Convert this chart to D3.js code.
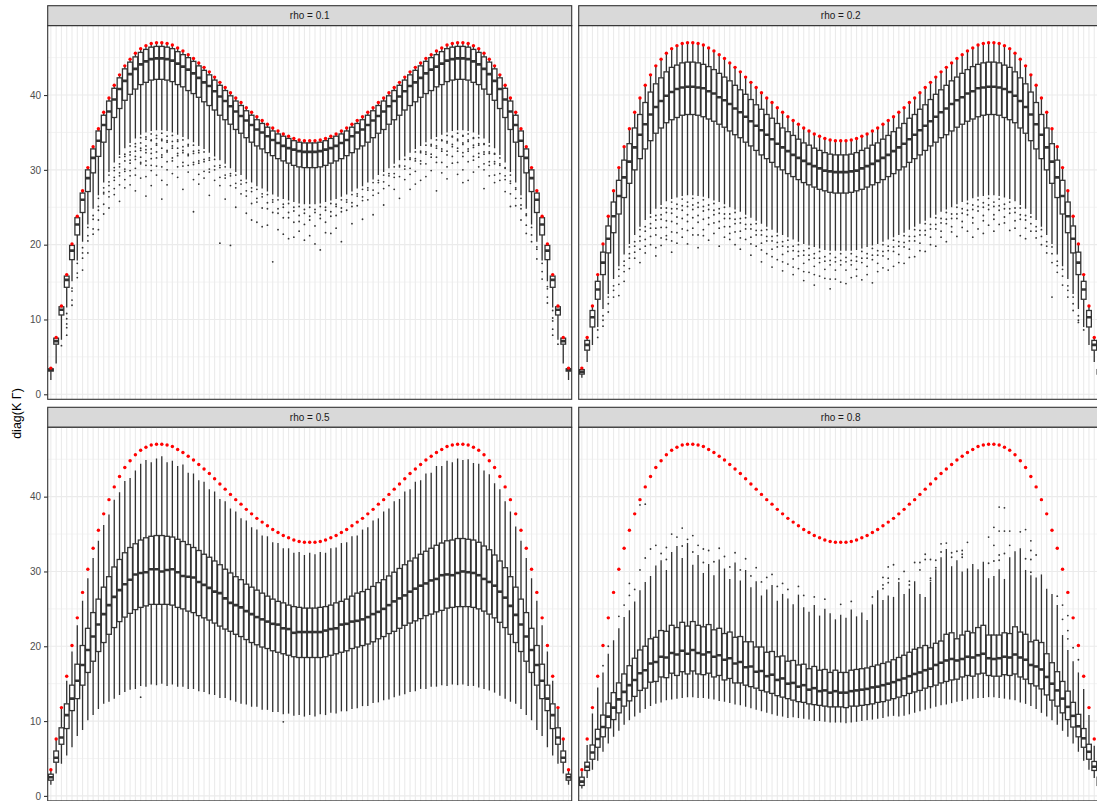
<!DOCTYPE html>
<html>
<head>
<meta charset="utf-8">
<script src="https://cdn.jsdelivr.net/npm/d3@7"></script>
<style>
  body { margin: 0; background: #fff; }
  text { font-family: "Liberation Sans", Arial, sans-serif; }
</style>
</head>
<body>
<div id="chart"></div>
<script>
// upper bound (red points), same in every panel
const redMax = [
  3.5, 7.6, 11.8, 16.0, 20.1, 23.8, 27.2, 30.3, 33.1, 35.5,
  37.7, 39.6, 41.3, 42.7, 43.9, 44.8, 45.6, 46.2, 46.6, 46.9,
  47.0, 47.0, 46.9, 46.7, 46.3, 45.9, 45.4, 44.9, 44.3, 43.7,
  43.1, 42.4, 41.7, 41.0, 40.3, 39.6, 39.0, 38.3, 37.7, 37.1,
  36.6, 36.1, 35.6, 35.2, 34.8, 34.5, 34.2, 34.0, 33.9, 33.9,
  33.9, 34.0, 34.2, 34.5, 34.8, 35.2, 35.6, 36.1, 36.6, 37.1,
  37.7, 38.3, 39.0, 39.6, 40.3, 41.0, 41.7, 42.4, 43.1, 43.7,
  44.3, 44.9, 45.4, 45.9, 46.3, 46.7, 46.9, 47.0, 47.0, 46.9,
  46.6, 46.2, 45.6, 44.8, 43.9, 42.7, 41.3, 39.6, 37.7, 35.5,
  33.1, 30.3, 27.2, 23.8, 20.1, 16.0, 11.8, 7.6, 3.5
];

// rho = 0.1
const med01 = [
  3.3, 7.1, 11.3, 15.3, 19.2, 22.7, 26.0, 28.9, 31.6, 33.9,
  36.0, 37.8, 39.4, 40.8, 41.9, 42.8, 43.5, 44.1, 44.5, 44.8,
  44.9, 44.9, 44.8, 44.6, 44.2, 43.8, 43.4, 42.9, 42.3, 41.7,
  41.2, 40.5, 39.8, 39.2, 38.5, 37.8, 37.2, 36.6, 36.0, 35.4,
  35.0, 34.5, 34.0, 33.6, 33.2, 32.9, 32.7, 32.5, 32.4, 32.4,
  32.4, 32.5, 32.7, 32.9, 33.2, 33.6, 34.0, 34.5, 35.0, 35.4,
  36.0, 36.6, 37.2, 37.8, 38.5, 39.2, 39.8, 40.5, 41.2, 41.7,
  42.3, 42.9, 43.4, 43.8, 44.2, 44.6, 44.8, 44.9, 44.9, 44.8,
  44.5, 44.1, 43.5, 42.8, 41.9, 40.8, 39.4, 37.8, 36.0, 33.9,
  31.6, 28.9, 26.0, 22.7, 19.2, 15.3, 11.3, 7.1, 3.3
];
const q301 = [
  3.4, 7.5, 11.7, 15.8, 19.9, 23.6, 26.9, 30.0, 32.8, 35.2,
  37.3, 39.2, 40.9, 42.3, 43.5, 44.4, 45.1, 45.7, 46.1, 46.4,
  46.5, 46.5, 46.4, 46.2, 45.8, 45.4, 45.0, 44.5, 43.9, 43.3,
  42.7, 42.0, 41.3, 40.6, 39.9, 39.2, 38.6, 37.9, 37.3, 36.7,
  36.2, 35.7, 35.2, 34.8, 34.5, 34.2, 33.9, 33.7, 33.6, 33.6,
  33.6, 33.7, 33.9, 34.2, 34.5, 34.8, 35.2, 35.7, 36.2, 36.7,
  37.3, 37.9, 38.6, 39.2, 39.9, 40.6, 41.3, 42.0, 42.7, 43.3,
  43.9, 44.5, 45.0, 45.4, 45.8, 46.2, 46.4, 46.5, 46.5, 46.4,
  46.1, 45.7, 45.1, 44.4, 43.5, 42.3, 40.9, 39.2, 37.3, 35.2,
  32.8, 30.0, 26.9, 23.6, 19.9, 15.8, 11.7, 7.5, 3.4
];
const q101 = [
  3.1, 6.7, 10.6, 14.3, 18.0, 21.3, 24.3, 27.1, 29.6, 31.8,
  33.7, 35.4, 37.0, 38.2, 39.3, 40.1, 40.8, 41.4, 41.7, 42.0,
  42.1, 42.1, 42.0, 41.8, 41.4, 41.1, 40.6, 40.2, 39.7, 39.1,
  38.6, 38.0, 37.3, 36.7, 36.1, 35.4, 34.9, 34.3, 33.7, 33.2,
  32.8, 32.3, 31.9, 31.5, 31.2, 30.9, 30.6, 30.4, 30.3, 30.3,
  30.3, 30.4, 30.6, 30.9, 31.2, 31.5, 31.9, 32.3, 32.8, 33.2,
  33.7, 34.3, 34.9, 35.4, 36.1, 36.7, 37.3, 38.0, 38.6, 39.1,
  39.7, 40.2, 40.6, 41.1, 41.4, 41.8, 42.0, 42.1, 42.1, 42.0,
  41.7, 41.4, 40.8, 40.1, 39.3, 38.2, 37.0, 35.4, 33.7, 31.8,
  29.6, 27.1, 24.3, 21.3, 18.0, 14.3, 10.6, 6.7, 3.1
];
const lo01 = [
  1.9, 4.1, 7.3, 11.6, 15.1, 17.9, 20.4, 22.7, 24.8, 26.6,
  28.3, 29.7, 31.0, 32.0, 32.9, 33.6, 34.2, 34.7, 35.0, 35.2,
  35.3, 35.3, 35.2, 35.0, 34.7, 34.4, 34.1, 33.7, 33.2, 32.8,
  32.3, 31.8, 31.3, 30.8, 30.2, 29.7, 29.3, 28.7, 28.3, 27.8,
  27.5, 27.1, 26.7, 26.4, 26.1, 25.9, 25.7, 25.5, 25.4, 25.4,
  25.4, 25.5, 25.7, 25.9, 26.1, 26.4, 26.7, 27.1, 27.5, 27.8,
  28.3, 28.7, 29.3, 29.7, 30.2, 30.8, 31.3, 31.8, 32.3, 32.8,
  33.2, 33.7, 34.1, 34.4, 34.7, 35.0, 35.2, 35.3, 35.3, 35.2,
  35.0, 34.7, 34.2, 33.6, 32.9, 32.0, 31.0, 29.7, 28.3, 26.6,
  24.8, 22.7, 20.4, 17.9, 15.1, 11.6, 7.3, 4.1, 1.9
];
const hi01 = [
  3.5, 7.6, 11.8, 15.9, 20.0, 23.7, 27.1, 30.2, 33.0, 35.4,
  37.6, 39.5, 41.2, 42.6, 43.8, 44.7, 45.5, 46.1, 46.5, 46.8,
  46.9, 46.9, 46.8, 46.6, 46.2, 45.8, 45.3, 44.8, 44.2, 43.6,
  43.0, 42.3, 41.6, 40.9, 40.2, 39.5, 38.9, 38.2, 37.6, 37.0,
  36.5, 36.0, 35.5, 35.1, 34.7, 34.4, 34.1, 33.9, 33.8, 33.8,
  33.8, 33.9, 34.1, 34.4, 34.7, 35.1, 35.5, 36.0, 36.5, 37.0,
  37.6, 38.2, 38.9, 39.5, 40.2, 40.9, 41.6, 42.3, 43.0, 43.6,
  44.2, 44.8, 45.3, 45.8, 46.2, 46.6, 46.8, 46.9, 46.9, 46.8,
  46.5, 46.1, 45.5, 44.7, 43.8, 42.6, 41.2, 39.5, 37.6, 35.4,
  33.0, 30.2, 27.1, 23.7, 20.0, 15.9, 11.8, 7.6, 3.5
];
// outliers: [category, values...]
const out01 = [
  [3, 6.5], [4, 10.8, 10.1, 9.4, 8.9, 7.9], [5, 14.2, 13.8, 12.6, 11.9], [6, 17.5, 16.2, 15.6],
  [7, 19.6, 18.9, 18.2, 16.6], [8, 22.3, 21.2, 20.5, 18.9], [9, 23.9, 23.4, 22.1, 21.4],
  [10, 26.2, 25.1, 24.6, 23.3, 22.0], [11, 27.6, 27.0, 26.8, 25.4, 24.1],
  [12, 29.3, 28.4, 27.9, 27.1, 26.4, 24.9], [13, 30.3, 29.9, 29.0, 28.6, 27.5, 26.7],
  [14, 31.7, 30.8, 30.4, 29.6, 29.2, 28.0, 25.8], [15, 32.1, 31.8, 31.2, 30.1, 29.8, 28.7, 27.6],
  [16, 33.2, 32.4, 32.0, 31.3, 30.9, 29.9, 29.2, 28.0], [17, 33.5, 33.1, 32.5, 31.8, 31.4, 30.2, 29.3, 27.2],
  [18, 34.3, 33.6, 32.9, 32.6, 31.7, 31.0, 30.8, 28.9], [19, 34.4, 34.1, 33.2, 32.7, 32.3, 31.2, 30.6, 29.1, 26.5],
  [20, 34.8, 34.0, 33.9, 32.8, 32.2, 31.5, 30.6, 29.9, 27.9], [21, 34.6, 34.2, 33.5, 33.3, 32.4, 31.6, 30.5, 29.3],
  [22, 34.9, 34.1, 33.9, 32.9, 32.0, 31.7, 30.4, 28.6, 26.1], [23, 34.5, 33.9, 33.7, 32.6, 32.4, 31.1, 30.0, 28.0],
  [24, 34.6, 33.8, 33.2, 32.9, 31.6, 31.2, 29.5], [25, 34.0, 33.8, 32.9, 32.2, 31.9, 30.4, 29.0],
  [26, 34.0, 33.1, 32.6, 32.3, 31.0, 30.5, 27.4], [27, 33.4, 33.2, 32.1, 31.9, 30.6, 29.7],
  [28, 33.3, 32.5, 32.2, 31.0, 30.7, 28.7, 24.4], [29, 32.6, 32.3, 31.2, 30.9, 29.4, 28.1],
  [30, 32.4, 31.4, 31.1, 29.8, 28.9], [31, 31.6, 31.3, 30.1, 29.7, 26.6], [32, 31.4, 30.5, 30.0, 28.6],
  [33, 30.6, 30.3, 29.0, 27.9, 20.2], [34, 30.4, 29.3, 28.9, 26.1], [35, 29.5, 29.2, 27.9, 19.9],
  [36, 29.3, 28.2, 27.6, 25.0], [37, 28.6, 28.1, 26.8], [38, 28.3, 27.2, 26.5, 24.2],
  [39, 27.6, 27.1, 25.5, 23.3], [40, 27.4, 26.2, 25.7, 23.0], [41, 26.8, 26.4, 24.9, 22.4],
  [42, 26.7, 25.6, 24.8, 22.6], [43, 26.0, 25.7, 24.3, 17.7], [44, 26.0, 24.8, 24.2, 22.0],
  [45, 25.4, 25.0, 23.6, 21.4], [46, 25.5, 24.3, 23.6, 20.8], [47, 25.0, 24.5, 23.0, 21.0],
  [48, 25.1, 23.9, 23.1, 21.8], [49, 24.7, 24.2, 22.7, 20.6], [50, 25.0, 23.8, 23.3, 21.2],
  [51, 24.7, 24.3, 22.5, 20.1], [52, 25.1, 24.0, 23.5, 19.3], [53, 25.0, 24.6, 23.0, 21.6],
  [54, 25.5, 24.4, 23.8, 21.5], [55, 25.4, 25.1, 23.9, 22.2], [56, 26.0, 24.9, 24.4, 20.4],
  [57, 26.0, 25.7, 24.6], [58, 26.7, 25.6, 25.1, 22.8], [59, 26.8, 26.5, 25.2],
  [60, 27.4, 26.4, 25.9, 23.4], [61, 27.6, 27.3, 26.0], [62, 28.3, 27.3, 26.6, 24.0],
  [63, 28.6, 28.3, 26.9], [64, 29.3, 28.4, 27.5, 25.3], [65, 29.5, 29.2, 27.9],
  [66, 30.4, 29.5, 29.0, 27.4], [67, 30.6, 30.4, 29.1, 26.2], [68, 31.4, 30.5, 30.1, 28.7],
  [69, 31.6, 31.4, 30.2, 29.4, 27.4], [70, 32.4, 31.5, 31.2, 29.8, 28.1], [71, 32.5, 32.3, 31.2, 30.8, 28.6],
  [72, 33.3, 32.4, 32.1, 30.8, 29.1], [73, 33.4, 33.2, 32.1, 31.7, 29.9], [74, 34.0, 33.2, 32.9, 31.7, 31.0, 27.2],
  [75, 34.0, 33.9, 32.8, 32.5, 31.0, 29.6], [76, 34.6, 33.8, 33.6, 32.5, 32.0, 30.4, 28.8],
  [77, 34.5, 34.4, 33.4, 33.1, 31.8, 30.9], [78, 34.9, 34.1, 33.9, 32.9, 32.5, 31.0, 29.4],
  [79, 34.6, 34.5, 33.6, 33.4, 32.3, 31.8, 30.0, 28.3], [80, 34.8, 34.0, 33.8, 32.8, 32.5, 31.1, 28.6],
  [81, 34.3, 34.2, 33.3, 33.0, 31.8, 31.3, 29.7], [82, 34.3, 33.5, 33.3, 32.2, 31.7, 30.4],
  [83, 33.5, 33.4, 32.4, 32.1, 30.8, 30.0, 27.5], [84, 33.2, 32.4, 32.2, 31.1, 30.6, 29.2],
  [85, 32.2, 32.1, 31.1, 30.8, 29.3, 28.3], [86, 31.6, 30.8, 30.6, 29.5, 28.6],
  [87, 30.3, 30.2, 29.2, 28.7, 27.1], [88, 29.3, 28.5, 28.2, 26.8, 25.1], [89, 27.6, 27.4, 26.2, 25.2],
  [90, 26.2, 25.3, 24.8, 23.3], [91, 24.1, 23.9, 22.6, 21.5], [92, 22.3, 21.3, 20.4],
  [93, 19.7, 19.4, 18.1], [94, 17.5, 16.4, 15.4], [95, 14.4, 14.1, 13.0, 12.2],
  [96, 11.2, 10.2, 9.8, 8.7, 7.9], [97, 6.7]
];

// rho = 0.2
const med02 = [
  3.0, 6.6, 10.3, 14.0, 17.6, 20.8, 23.8, 26.5, 29.0, 31.1,
  33.0, 34.7, 36.1, 37.4, 38.4, 39.2, 39.9, 40.4, 40.8, 41.0,
  41.1, 41.1, 41.0, 40.9, 40.5, 40.2, 39.7, 39.3, 38.8, 38.2,
  37.7, 37.1, 36.5, 35.9, 35.3, 34.7, 34.1, 33.5, 33.0, 32.5,
  32.0, 31.6, 31.2, 30.8, 30.5, 30.2, 29.9, 29.8, 29.7, 29.7,
  29.7, 29.8, 29.9, 30.2, 30.5, 30.8, 31.2, 31.6, 32.0, 32.5,
  33.0, 33.5, 34.1, 34.7, 35.3, 35.9, 36.5, 37.1, 37.7, 38.2,
  38.8, 39.3, 39.7, 40.2, 40.5, 40.9, 41.0, 41.1, 41.1, 41.0,
  40.8, 40.4, 39.9, 39.2, 38.4, 37.4, 36.1, 34.7, 33.0, 31.1,
  29.0, 26.5, 23.8, 20.8, 17.6, 14.0, 10.3, 6.6, 3.0
];
const q302 = [
  3.3, 7.2, 11.2, 15.1, 19.0, 22.5, 25.7, 28.6, 31.3, 33.5,
  35.6, 37.4, 39.0, 40.4, 41.5, 42.3, 43.1, 43.7, 44.0, 44.3,
  44.4, 44.4, 44.3, 44.1, 43.8, 43.4, 42.9, 42.4, 41.9, 41.3,
  40.7, 40.1, 39.4, 38.7, 38.1, 37.4, 36.9, 36.2, 35.6, 35.1,
  34.6, 34.1, 33.6, 33.3, 32.9, 32.6, 32.3, 32.1, 32.0, 32.0,
  32.0, 32.1, 32.3, 32.6, 32.9, 33.3, 33.6, 34.1, 34.6, 35.1,
  35.6, 36.2, 36.9, 37.4, 38.1, 38.7, 39.4, 40.1, 40.7, 41.3,
  41.9, 42.4, 42.9, 43.4, 43.8, 44.1, 44.3, 44.4, 44.4, 44.3,
  44.0, 43.7, 43.1, 42.3, 41.5, 40.4, 39.0, 37.4, 35.6, 33.5,
  31.3, 28.6, 25.7, 22.5, 19.0, 15.1, 11.2, 7.2, 3.3
];
const q102 = [
  2.7, 5.9, 9.0, 12.7, 16.0, 18.9, 21.6, 24.1, 26.3, 28.2,
  30.0, 31.5, 32.8, 33.9, 34.9, 35.6, 36.3, 36.7, 37.0, 37.3,
  37.4, 37.4, 37.3, 37.1, 36.8, 36.5, 36.1, 35.7, 35.2, 34.7,
  34.3, 33.7, 33.2, 32.6, 32.0, 31.5, 31.0, 30.4, 30.0, 29.5,
  29.1, 28.7, 28.3, 28.0, 27.7, 27.4, 27.2, 27.0, 26.9, 26.9,
  26.9, 27.0, 27.2, 27.4, 27.7, 28.0, 28.3, 28.7, 29.1, 29.5,
  30.0, 30.4, 31.0, 31.5, 32.0, 32.6, 33.2, 33.7, 34.3, 34.7,
  35.2, 35.7, 36.1, 36.5, 36.8, 37.1, 37.3, 37.4, 37.4, 37.3,
  37.0, 36.7, 36.3, 35.6, 34.9, 33.9, 32.8, 31.5, 30.0, 28.2,
  26.3, 24.1, 21.6, 18.9, 16.0, 12.7, 9.0, 5.9, 2.7
];
const lo02 = [
  2.2, 4.3, 6.6, 9.0, 11.4, 13.4, 15.4, 17.1, 18.7, 20.1,
  21.3, 22.4, 23.3, 24.1, 24.8, 25.3, 25.8, 26.1, 26.3, 26.5,
  26.6, 26.6, 26.5, 26.4, 26.2, 25.9, 25.7, 25.4, 25.0, 24.7,
  24.4, 24.0, 23.6, 23.2, 22.8, 22.4, 22.0, 21.6, 21.3, 21.0,
  20.7, 20.4, 20.1, 19.9, 19.7, 19.5, 19.3, 19.2, 19.2, 19.2,
  19.2, 19.2, 19.3, 19.5, 19.7, 19.9, 20.1, 20.4, 20.7, 21.0,
  21.3, 21.6, 22.0, 22.4, 22.8, 23.2, 23.6, 24.0, 24.4, 24.7,
  25.0, 25.4, 25.7, 25.9, 26.2, 26.4, 26.5, 26.6, 26.6, 26.5,
  26.3, 26.1, 25.8, 25.3, 24.8, 24.1, 23.3, 22.4, 21.3, 20.1,
  18.7, 17.1, 15.4, 13.4, 11.4, 9.0, 6.6, 4.3, 2.2
];
const out02 = [
  [4, 8.6, 7.6], [5, 10.5, 9.9, 9.1], [6, 13.0, 12.1, 11.0], [7, 14.5, 13.9, 13.0],
  [8, 16.7, 15.8, 14.7, 13.2], [9, 17.8, 17.2, 16.4, 15.1], [10, 19.7, 18.8, 18.2, 16.8],
  [11, 20.4, 19.8, 19.0, 18.2], [12, 22.0, 21.1, 20.5, 19.4, 17.6], [13, 22.4, 21.8, 20.7, 19.8, 18.9],
  [14, 23.7, 22.8, 22.2, 21.1, 20.0], [15, 23.9, 23.3, 22.2, 21.3, 19.6, 18.5],
  [16, 24.9, 24.0, 23.4, 22.3, 20.9, 19.9], [17, 24.9, 24.3, 23.2, 22.3, 21.2, 20.7],
  [18, 25.7, 24.8, 24.2, 23.1, 21.7, 20.5, 19.0], [19, 25.4, 24.8, 23.7, 22.8, 21.6, 20.2],
  [20, 26.1, 25.2, 24.6, 23.5, 22.1, 21.0], [21, 25.7, 25.1, 24.0, 23.1, 21.9, 20.1],
  [22, 26.2, 25.3, 24.7, 23.6, 22.2, 21.3], [23, 25.6, 25.0, 23.9, 23.0, 21.3, 19.6],
  [24, 26.0, 25.1, 24.5, 23.4, 22.0, 21.2], [25, 25.3, 24.7, 23.6, 22.7, 20.6],
  [26, 25.5, 24.6, 24.0, 22.9, 21.5], [27, 24.8, 24.2, 23.1, 22.2, 19.8],
  [28, 25.0, 24.1, 23.5, 22.4, 21.0], [29, 24.1, 23.5, 22.4, 21.5, 20.7],
  [30, 24.3, 23.4, 22.8, 21.7, 20.0], [31, 23.5, 22.9, 21.8, 20.9, 19.4],
  [32, 23.6, 22.7, 22.1, 20.7], [33, 22.7, 22.1, 21.0, 20.1, 18.6], [34, 22.8, 21.9, 21.3, 19.8],
  [35, 21.9, 21.3, 20.2, 19.3, 17.7], [36, 22.0, 21.1, 20.5, 18.8], [37, 21.1, 20.5, 19.4, 18.4, 17.0],
  [38, 21.2, 20.3, 19.7, 18.0], [39, 20.4, 19.8, 18.7, 17.7, 16.5], [40, 20.6, 19.7, 19.1, 17.4],
  [41, 19.8, 19.2, 18.1, 17.0, 16.0], [42, 20.0, 19.1, 18.5, 16.8], [43, 19.2, 18.6, 17.5, 16.4, 15.2],
  [44, 19.5, 18.6, 18.0, 16.3], [45, 18.8, 18.2, 17.1, 16.0, 14.6], [46, 19.1, 18.2, 17.6, 15.8],
  [47, 18.4, 17.8, 16.7, 15.5], [48, 18.8, 17.9, 17.3, 15.4, 14.1], [49, 18.3, 17.7, 16.6, 15.4],
  [50, 18.8, 17.9, 17.3, 15.0], [51, 18.3, 17.7, 16.6, 14.8], [52, 18.8, 17.9, 17.3, 15.6],
  [53, 18.4, 17.8, 16.7, 15.8], [54, 19.1, 18.2, 17.6, 15.3], [55, 18.8, 18.2, 17.1, 16.0],
  [56, 19.5, 18.6, 18.0, 14.9], [57, 19.2, 18.6, 17.5, 16.4], [58, 20.0, 19.1, 18.5, 16.9],
  [59, 19.8, 19.2, 18.1, 16.6], [60, 20.6, 19.7, 19.1, 17.1], [61, 20.4, 19.8, 18.7, 17.6],
  [62, 21.2, 20.3, 19.7, 17.5], [63, 21.1, 20.5, 19.4, 18.3], [64, 22.0, 21.1, 20.5, 18.4],
  [65, 21.9, 21.3, 20.2, 19.2], [66, 22.8, 21.9, 21.3, 19.1], [67, 22.7, 22.1, 21.0, 20.0],
  [68, 23.6, 22.7, 22.1, 19.8], [69, 23.5, 22.9, 21.8, 21.0], [70, 24.3, 23.4, 22.8, 20.4],
  [71, 24.1, 23.5, 22.4, 21.7], [72, 25.0, 24.1, 23.5, 21.1], [73, 24.8, 24.2, 23.1, 22.3],
  [74, 25.5, 24.6, 24.0, 21.8], [75, 25.3, 24.7, 23.6, 22.9, 21.0], [76, 26.0, 25.1, 24.5, 22.1],
  [77, 25.6, 25.0, 23.9, 23.2, 21.5], [78, 26.2, 25.3, 24.7, 22.6], [79, 25.7, 25.1, 24.0, 23.4, 21.8],
  [80, 26.1, 25.2, 24.6, 22.7], [81, 25.4, 24.8, 23.7, 22.9], [82, 25.7, 24.8, 24.2, 21.9],
  [83, 24.9, 24.3, 23.2, 22.2], [84, 24.9, 24.0, 23.4, 21.2], [85, 23.9, 23.3, 22.2, 20.8],
  [86, 23.7, 22.8, 21.8], [87, 22.4, 21.8, 20.9], [88, 22.0, 21.1, 20.0], [89, 20.4, 19.8, 18.9],
  [90, 19.7, 18.8, 17.6, 13.0], [91, 17.8, 17.2, 16.3], [92, 16.7, 15.8, 14.6], [93, 14.5, 13.9, 13.0],
  [94, 13.0, 12.1, 11.2], [95, 10.5, 9.9, 9.6], [96, 8.6]
];

// rho = 0.5
const med05 = [
  2.5, 5.1, 7.8, 10.8, 13.0, 15.4, 17.5, 19.5, 21.3, 22.9,
  24.3, 25.5, 26.6, 27.5, 28.3, 28.9, 29.6, 29.8, 29.9, 30.3,
  30.3, 30.0, 30.2, 30.3, 29.9, 29.4, 29.3, 29.2, 28.6, 28.2,
  27.8, 27.3, 27.1, 26.4, 25.8, 25.5, 25.2, 24.7, 24.3, 23.9,
  23.6, 23.3, 23.0, 22.9, 22.4, 22.3, 21.8, 21.9, 21.9, 21.9,
  21.9, 21.9, 22.1, 22.3, 22.4, 22.9, 23.0, 23.3, 23.4, 23.6,
  23.9, 24.3, 24.6, 25.0, 25.5, 26.0, 26.4, 26.8, 27.3, 27.7,
  28.1, 28.4, 28.8, 29.0, 29.5, 29.6, 29.5, 29.8, 30.0, 29.9,
  29.8, 29.5, 29.0, 28.6, 28.1, 27.3, 26.5, 25.4, 24.2, 22.9,
  21.3, 19.5, 17.5, 15.4, 13.0, 10.8, 7.8, 5.1, 2.5
];
const q305 = [
  2.9, 6.0, 9.1, 12.3, 14.8, 17.6, 20.1, 22.4, 24.5, 26.3,
  27.9, 29.3, 30.6, 31.6, 32.5, 33.2, 33.7, 34.2, 34.5, 34.7,
  34.8, 34.8, 34.7, 34.6, 34.3, 34.0, 33.6, 33.2, 32.8, 32.3,
  31.9, 31.4, 30.9, 30.3, 29.8, 29.3, 28.9, 28.3, 27.9, 27.5,
  27.1, 26.7, 26.3, 26.0, 25.8, 25.5, 25.3, 25.2, 25.1, 25.1,
  25.1, 25.2, 25.3, 25.5, 25.8, 26.0, 26.3, 26.7, 27.1, 27.3,
  27.6, 28.0, 28.5, 28.9, 29.4, 29.9, 30.4, 30.9, 31.4, 31.8,
  32.3, 32.7, 33.1, 33.5, 33.8, 34.1, 34.2, 34.4, 34.4, 34.3,
  34.2, 33.9, 33.4, 32.9, 32.2, 31.4, 30.5, 29.3, 27.9, 26.3,
  24.5, 22.4, 20.1, 17.6, 14.8, 12.3, 9.1, 6.0, 2.9
];
const q105 = [
  2.1, 4.5, 6.9, 9.0, 11.4, 13.0, 14.8, 16.5, 18.0, 19.3,
  20.5, 21.6, 22.5, 23.3, 23.9, 24.4, 24.9, 25.2, 25.4, 25.6,
  25.6, 25.6, 25.6, 25.5, 25.2, 25.0, 24.7, 24.5, 24.1, 23.8,
  23.5, 23.1, 22.7, 22.3, 22.0, 21.6, 21.3, 20.9, 20.5, 20.2,
  19.9, 19.7, 19.4, 19.2, 19.0, 18.8, 18.6, 18.5, 18.5, 18.5,
  18.5, 18.5, 18.6, 18.8, 19.0, 19.2, 19.4, 19.7, 19.9, 20.1,
  20.3, 20.6, 21.0, 21.3, 21.7, 22.0, 22.4, 22.8, 23.1, 23.4,
  23.7, 24.1, 24.3, 24.6, 24.8, 25.1, 25.2, 25.3, 25.3, 25.3,
  25.2, 25.0, 24.7, 24.3, 23.8, 23.2, 22.5, 21.6, 20.5, 19.3,
  18.0, 16.5, 14.8, 13.0, 11.4, 9.0, 6.9, 4.5, 2.1
];
const lo05 = [
  1.5, 3.0, 4.3, 5.4, 6.5, 8.0, 8.8, 10.1, 10.8, 11.6,
  12.3, 12.6, 13.0, 13.5, 13.9, 14.2, 14.3, 14.7, 14.6, 14.9,
  14.8, 15.0, 14.7, 14.9, 14.6, 14.6, 14.3, 14.3, 14.0, 13.9,
  13.6, 13.5, 13.1, 13.1, 12.8, 12.6, 12.3, 12.2, 11.9, 11.9,
  11.5, 11.5, 11.2, 11.2, 10.9, 11.0, 10.7, 10.8, 10.6, 10.8,
  10.6, 10.9, 10.8, 11.1, 11.0, 11.3, 11.3, 11.6, 11.7, 12.0,
  12.0, 12.4, 12.5, 12.8, 12.9, 13.2, 13.4, 13.6, 13.9, 14.0,
  14.3, 14.3, 14.6, 14.6, 14.8, 14.7, 14.9, 14.8, 14.9, 14.7,
  14.7, 14.5, 14.3, 14.1, 13.8, 13.4, 13.0, 12.6, 12.3, 11.6,
  10.8, 10.1, 8.8, 8.0, 6.5, 5.4, 4.3, 3.0, 1.5
];
const hi05 = [
  3.5, 7.6, 11.8, 15.4, 19.3, 22.8, 26.1, 29.1, 31.8, 34.1,
  36.2, 37.6, 39.6, 40.6, 42.1, 42.5, 43.5, 44.4, 44.9, 44.6,
  45.1, 45.4, 44.6, 44.8, 44.1, 44.3, 43.2, 43.1, 42.2, 42.0,
  41.0, 40.7, 39.7, 39.4, 38.4, 38.0, 37.1, 36.8, 35.9, 35.6,
  34.8, 34.7, 33.9, 33.8, 33.1, 33.1, 32.5, 32.6, 32.2, 32.5,
  32.3, 32.6, 32.5, 33.1, 33.2, 33.8, 33.9, 34.7, 34.8, 35.6,
  35.9, 36.8, 37.1, 38.0, 38.4, 39.4, 39.7, 40.7, 41.0, 42.0,
  42.2, 43.1, 43.2, 44.1, 44.1, 44.8, 44.6, 45.1, 44.9, 45.0,
  44.5, 44.4, 43.5, 43.0, 41.8, 41.0, 39.4, 38.0, 36.0, 34.1,
  31.8, 29.1, 26.1, 22.8, 19.3, 15.4, 11.8, 7.6, 3.5
];
const out05 = [[18, 13.2], [45, 9.9]];

// rho = 0.8
const med08 = [
  1.9, 3.9, 5.8, 7.6, 9.2, 10.6, 11.8, 12.9, 13.9, 14.8,
  15.5, 16.4, 16.8, 17.7, 17.9, 18.6, 18.5, 19.1, 18.9, 19.4,
  19.0, 19.5, 19.1, 18.9, 19.2, 18.6, 18.8, 18.2, 18.4, 17.7,
  17.9, 17.2, 17.3, 16.6, 16.7, 16.0, 16.2, 15.5, 15.7, 15.0,
  15.1, 14.6, 14.8, 14.2, 14.4, 14.0, 14.1, 13.8, 14.0, 13.8,
  13.8, 14.0, 14.1, 14.2, 14.3, 14.5, 14.6, 14.8, 15.0, 15.2,
  15.5, 15.7, 16.0, 16.3, 16.5, 16.8, 17.0, 17.5, 17.8, 18.1,
  18.3, 18.1, 18.3, 18.6, 18.5, 18.8, 19.0, 18.4, 18.3, 18.4,
  18.6, 18.5, 18.9, 18.5, 18.2, 17.5, 17.3, 16.9, 15.9, 15.0,
  14.1, 13.0, 11.9, 10.7, 9.3, 7.7, 5.9, 3.9, 1.9
];
const q308 = [
  2.5, 4.5, 6.8, 8.9, 10.8, 12.4, 13.8, 15.1, 16.3, 17.4,
  18.4, 19.5, 20.0, 21.0, 21.2, 22.1, 22.0, 22.8, 22.5, 23.2,
  22.7, 23.3, 22.8, 22.6, 22.9, 22.2, 22.4, 21.7, 21.9, 21.2,
  21.3, 20.6, 20.6, 19.9, 19.9, 19.2, 19.3, 18.6, 18.7, 18.0,
  18.1, 17.5, 17.6, 17.0, 17.3, 16.8, 16.9, 16.5, 16.8, 16.5,
  16.5, 16.8, 16.9, 17.0, 17.1, 17.3, 17.5, 17.7, 17.9, 18.2,
  18.5, 18.8, 19.2, 19.6, 19.8, 20.1, 19.8, 20.4, 20.7, 21.6,
  21.8, 21.0, 21.5, 22.0, 21.8, 22.5, 22.8, 21.5, 21.5, 21.5,
  21.8, 21.7, 22.6, 21.9, 21.6, 20.6, 20.8, 20.5, 19.0, 17.8,
  16.6, 15.3, 14.0, 12.5, 10.9, 9.0, 6.9, 4.6, 2.5
];
const q108 = [
  1.4, 3.4, 4.9, 6.5, 7.9, 9.1, 10.2, 11.1, 12.0, 12.7,
  13.3, 14.1, 14.4, 15.2, 15.3, 15.9, 15.8, 16.4, 16.1, 16.6,
  16.3, 16.7, 16.3, 16.2, 16.4, 15.9, 16.1, 15.5, 15.7, 15.1,
  15.1, 14.8, 14.6, 14.4, 14.1, 13.9, 13.7, 13.4, 13.2, 13.0,
  12.8, 12.6, 12.5, 12.3, 12.2, 12.1, 12.0, 11.9, 11.9, 11.9,
  11.8, 12.0, 12.0, 12.1, 12.2, 12.3, 12.5, 12.6, 12.8, 13.0,
  13.2, 13.4, 13.7, 13.9, 14.1, 14.4, 14.6, 14.8, 15.1, 15.3,
  15.5, 15.6, 15.9, 16.1, 16.0, 16.3, 16.4, 16.1, 16.0, 16.0,
  16.2, 16.1, 16.3, 15.9, 15.6, 15.0, 14.7, 14.3, 13.5, 12.8,
  12.0, 11.1, 10.2, 9.2, 7.9, 6.5, 4.9, 3.4, 1.4
];
const lo08 = [
  1.0, 2.4, 3.5, 4.7, 5.9, 7.0, 7.9, 8.7, 9.5, 10.1,
  10.6, 11.1, 11.6, 12.0, 12.3, 12.5, 12.8, 12.9, 13.0, 13.1,
  13.2, 13.2, 13.1, 13.1, 13.0, 12.9, 12.7, 12.6, 12.4, 12.2,
  12.1, 11.9, 11.7, 11.5, 11.3, 11.1, 10.9, 10.7, 10.6, 10.4,
  10.5, 10.4, 10.3, 10.2, 10.0, 10.0, 9.9, 9.8, 9.8, 9.8,
  9.7, 9.8, 9.9, 10.0, 10.1, 10.2, 10.3, 10.4, 10.6, 10.7,
  10.6, 10.7, 10.9, 11.1, 11.3, 11.5, 11.7, 11.9, 12.1, 12.2,
  12.4, 12.6, 12.7, 12.9, 13.0, 13.1, 13.1, 13.2, 13.2, 13.1,
  13.0, 12.9, 12.8, 12.5, 12.3, 12.0, 11.6, 11.1, 10.6, 10.1,
  9.5, 8.7, 7.9, 7.0, 5.9, 4.7, 3.5, 2.4, 1.0
];
const hi08 = [
  3.3, 6.8, 11.0, 14.5, 16.5, 19.0, 20.8, 22.4, 23.9, 24.8,
  26.0, 27.5, 28.6, 29.4, 30.8, 31.5, 30.2, 32.6, 33.4, 31.8,
  33.8, 30.9, 32.2, 29.8, 31.0, 29.5, 31.6, 30.4, 29.0, 31.2,
  28.8, 30.2, 27.9, 28.7, 26.8, 27.6, 28.2, 26.1, 27.0, 26.4,
  25.6, 26.9, 25.2, 24.6, 25.5, 24.1, 25.0, 24.4, 23.6, 24.2,
  23.8, 24.9, 24.0, 24.5, 23.5, 25.6, 27.5, 26.2, 26.8, 26.6,
  28.6, 27.0, 27.7, 28.7, 27.0, 26.6, 28.6, 30.3, 31.9, 33.0,
  30.7, 31.5, 30.0, 30.4, 31.0, 30.3, 31.3, 29.1, 29.4, 30.3,
  29.0, 31.9, 32.7, 33.1, 30.2, 29.5, 29.2, 29.6, 27.7, 27.0,
  25.5, 21.5, 19.5, 18.0, 16.5, 14.3, 10.8, 6.7, 3.3
];
const out08 = [
  [5, 17.4], [6, 20.0], [8, 24.0], [9, 25.5], [10, 26.8, 28.4], [11, 27.6], [12, 38.9, 30.2],
  [13, 39.0, 31.8], [14, 33.0], [15, 33.5], [16, 32.4], [17, 33.2, 31.6], [18, 35.0], [19, 34.6],
  [20, 33.4, 35.8], [21, 34.3], [22, 32.6, 34.8], [23, 33.5], [24, 31.2, 33.0], [25, 32.8], [26, 31.3],
  [27, 33.1], [28, 32.0], [29, 30.6], [30, 32.5], [31, 30.2], [32, 31.7], [33, 29.4], [34, 30.5],
  [35, 28.6], [36, 29.2], [37, 29.6], [38, 28.0], [39, 28.4], [40, 27.6], [42, 28.0], [43, 26.8],
  [45, 26.6], [47, 26.3], [50, 25.6], [52, 26.0], [56, 26.6], [58, 28.2, 27.7, 29.2],
  [59, 30.6, 29.1, 28.5], [60, 30.9], [61, 29.0], [62, 30.0], [63, 28.2, 28.7], [64, 31.2],
  [65, 31.2, 30.2], [66, 32.3, 31.6], [67, 31.6, 29.1, 28.8], [68, 31.5, 30.5], [69, 33.7, 32.6],
  [70, 33.8], [71, 32.5, 31.9], [72, 32.7], [73, 32.8, 32.3, 31.9], [74, 33.9], [78, 34.6, 31.1],
  [79, 35.9, 33.5, 31.4], [80, 38.6, 35.4, 32.2, 31.5], [81, 38.5, 35.4, 32.4], [82, 35.4, 33.5],
  [84, 35.3], [85, 35.6, 31.7], [86, 34.1, 32.8, 31.6, 29.9], [87, 32.2], [91, 26.7],
  [92, 25.5, 23.6], [93, 24.1, 22.1, 21.0], [94, 19.8], [95, 18.2]
];

const yTicks = [0, 10, 20, 30, 40];
const yMinor = [5, 15, 25, 35, 45];
const yDataRange = [1.6, 47.0];

const panels = [
  {label: "rho = 0.1", med: med01, q1: q101, q3: q301, lo: lo01, hi: hi01, out: out01},
  {label: "rho = 0.2", med: med02, q1: q102, q3: q302, lo: lo02, hi: hi01, out: out02},
  {label: "rho = 0.5", med: med05, q1: q105, q3: q305, lo: lo05, hi: hi05, out: out05},
  {label: "rho = 0.8", med: med08, q1: q108, q3: q308, lo: lo08, hi: hi08, out: out08}
];

// layout
const width = 1097, height = 801;
const panelW = 524, panelH = 373.6, stripH = 20;
const marginLeft = 47.7, marginTop = 5.7, gapX = 7, gapY = 8;
const dark = "#333333";

const svg = d3.select("#chart").append("svg")
  .attr("width", width)
  .attr("height", height)
  .style("display", "block");

const n = redMax.length;
const cats = d3.range(1, n + 1);

const x = d3.scaleLinear().domain([0.4, n + 0.6]).range([0, panelW]);
const pad = (yDataRange[1] - yDataRange[0]) * 0.05;
const y = d3.scaleLinear().domain([yDataRange[0] - pad, yDataRange[1] + pad]).range([panelH, 0]);
const boxW = (x(2) - x(1)) * 0.9;

panels.forEach((p, i) => {
  const col = i % 2, row = Math.floor(i / 2);
  const px = marginLeft + col * (panelW + gapX);
  const sy = marginTop + row * (stripH + panelH + gapY);
  const py = sy + stripH;

  // strip
  svg.append("rect")
    .attr("x", px).attr("y", sy)
    .attr("width", panelW).attr("height", stripH)
    .attr("fill", "#d9d9d9")
    .attr("stroke", dark).attr("stroke-width", 1.1);
  svg.append("text")
    .attr("x", px + panelW / 2).attr("y", sy + stripH / 2)
    .attr("dy", "0.35em")
    .attr("text-anchor", "middle")
    .attr("font-size", 10)
    .attr("fill", "#1a1a1a")
    .text(p.label);

  svg.append("clipPath").attr("id", "clip" + i)
    .append("rect").attr("width", panelW).attr("height", panelH);

  const g = svg.append("g").attr("transform", `translate(${px},${py})`);
  const inner = g.append("g").attr("clip-path", `url(#clip${i})`);

  inner.append("rect").attr("width", panelW).attr("height", panelH).attr("fill", "#fff");

  // grid
  inner.selectAll(".minor").data(yMinor).enter().append("line")
    .attr("x1", 0).attr("x2", panelW)
    .attr("y1", d => y(d)).attr("y2", d => y(d))
    .attr("stroke", "#ebebeb").attr("stroke-width", 0.6);
  inner.selectAll(".major").data(yTicks).enter().append("line")
    .attr("x1", 0).attr("x2", panelW)
    .attr("y1", d => y(d)).attr("y2", d => y(d))
    .attr("stroke", "#ebebeb").attr("stroke-width", 1.1);
  inner.selectAll(".vgrid").data(cats).enter().append("line")
    .attr("x1", d => x(d)).attr("x2", d => x(d))
    .attr("y1", 0).attr("y2", panelH)
    .attr("stroke", "#ebebeb").attr("stroke-width", 1.1);

  const stats = cats.map((c, k) => ({
    c: c, lo: p.lo[k], q1: p.q1[k], med: p.med[k], q3: p.q3[k], hi: p.hi[k]
  }));

  const box = inner.selectAll(".box").data(stats).enter().append("g");
  box.append("line")
    .attr("x1", d => x(d.c)).attr("x2", d => x(d.c))
    .attr("y1", d => y(d.hi)).attr("y2", d => y(d.q3))
    .attr("stroke", dark).attr("stroke-width", 1.3);
  box.append("line")
    .attr("x1", d => x(d.c)).attr("x2", d => x(d.c))
    .attr("y1", d => y(d.q1)).attr("y2", d => y(d.lo))
    .attr("stroke", dark).attr("stroke-width", 1.3);
  box.append("rect")
    .attr("x", d => x(d.c) - boxW / 2)
    .attr("y", d => y(d.q3))
    .attr("width", boxW)
    .attr("height", d => Math.max(0.1, y(d.q1) - y(d.q3)))
    .attr("fill", "#fff")
    .attr("stroke", dark).attr("stroke-width", 1.3);
  box.append("line")
    .attr("x1", d => x(d.c) - boxW / 2).attr("x2", d => x(d.c) + boxW / 2)
    .attr("y1", d => y(d.med)).attr("y2", d => y(d.med))
    .attr("stroke", dark).attr("stroke-width", 2.6);

  // outliers
  const pts = p.out.flatMap(r => r.slice(1).map(v => [r[0], v]));
  inner.selectAll(".out").data(pts).enter().append("circle")
    .attr("cx", d => x(d[0]))
    .attr("cy", d => y(d[1]))
    .attr("r", 0.9)
    .attr("fill", dark);

  // upper bound
  inner.selectAll(".red").data(redMax).enter().append("circle")
    .attr("cx", (d, k) => x(k + 1))
    .attr("cy", d => y(d))
    .attr("r", 1.7)
    .attr("fill", "red");

  g.append("rect")
    .attr("width", panelW).attr("height", panelH)
    .attr("fill", "none")
    .attr("stroke", dark).attr("stroke-width", 1.1);

  if (col === 0) {
    const ax = g.append("g").call(d3.axisLeft(y).tickValues(yTicks).tickSize(3.7).tickPadding(2.9));
    ax.select(".domain").remove();
    ax.selectAll("line").attr("stroke", dark).attr("stroke-width", 1.1);
    ax.selectAll("text")
      .attr("fill", "#4d4d4d")
      .attr("font-size", 10)
      .attr("font-family", "'Liberation Sans', Arial, sans-serif");
  }
});

svg.append("text")
  .attr("transform", "translate(20.9,413.5) rotate(-90)")
  .attr("text-anchor", "middle")
  .attr("font-size", 12.5)
  .attr("fill", "#000")
  .text("diag(K Γ)");
</script>
</body>
</html>
